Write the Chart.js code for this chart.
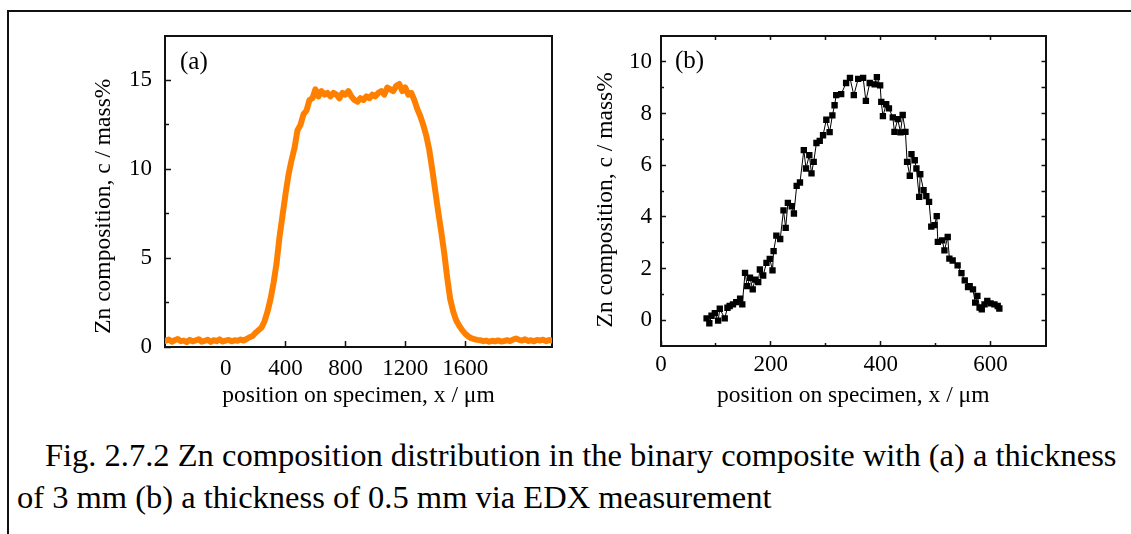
<!DOCTYPE html>
<html>
<head>
<meta charset="utf-8">
<script src="https://cdn.jsdelivr.net/npm/chart.js@4.4.1/dist/chart.umd.min.js"></script>
<style>
  html, body { margin: 0; padding: 0; background: #fff; }
  body { width: 1131px; height: 534px; position: relative; overflow: hidden;
         font-family: "Liberation Serif", "Times New Roman", serif; color: #000; }
  .frame { position: absolute; left: 7px; top: 10px; width: 1200px; height: 600px;
           border-top: 2px solid #111; border-left: 2px solid #111; }
  canvas { position: absolute; }
  #chartA { left: 90px; top: 26px; }
  #chartB { left: 592px; top: 26px; }
  .tag { position: absolute; font-size: 25px; line-height: 25px; }
  .caption { position: absolute; font-size: 32.5px; line-height: 42px; white-space: nowrap; }
</style>
</head>
<body>
<div class="frame"></div>
<canvas id="chartA" width="466" height="384"></canvas>
<canvas id="chartB" width="458" height="384"></canvas>
<div class="tag" style="left:180px; top:48px;">(a)</div>
<div class="tag" style="left:675px; top:47px;">(b)</div>
<div class="caption" style="left:45px; top:434px;">Fig. 2.7.2 Zn composition distribution in the binary composite with (a) a thickness</div>
<div class="caption" style="left:17px; top:476px;">of 3 mm (b) a thickness of 0.5 mm via EDX measurement</div>

<script>
// (a) 3 mm specimen
const xA = [-400,-380,-360,-340,-320,-300,-280,-260,-240,-220,-200,-180,-160,-140,-120,-100,-80,-60,-40,-20,
  0,20,40,60,80,100,120,140,160,180,200,220,240,260,280,300,320,340,360,380,
  400,420,440,460,480,500,520,540,560,580,600,620,640,660,680,700,720,740,760,780,
  800,820,840,860,880,900,920,940,960,980,1000,1020,1040,1060,1080,1100,1120,1140,1160,1180,
  1200,1220,1240,1260,1280,1300,1320,1340,1360,1380,1400,1420,1440,1460,1480,1500,1520,1540,1560,1580,
  1600,1620,1640,1660,1680,1700,1720,1740,1760,1780,1800,1820,1840,1860,1880,1900,1920,1940,1960,1980,
  2000,2020,2040,2060,2080,2100,2120,2140,2160,2180];
const yA = [0.35,0.42,0.30,0.38,0.45,0.33,0.36,0.28,0.40,0.32,0.37,0.44,0.30,0.35,0.41,0.29,0.38,0.33,0.43,0.31,
  0.36,0.40,0.32,0.38,0.35,0.42,0.36,0.45,0.55,0.62,0.80,0.95,1.10,1.45,2.00,2.70,3.60,4.70,6.20,7.40,
  8.60,9.70,10.50,11.20,12.20,12.50,13.10,13.30,13.90,14.00,14.5,14.1,14.4,14.2,14.3,14.1,14.3,14.2,14.0,14.3,
  14.2,14.4,14.1,13.9,13.8,14.0,13.9,14.1,14.0,14.2,14.1,14.3,14.4,14.2,14.6,14.5,14.4,14.7,14.8,14.4,
  14.6,14.2,14.3,13.9,13.4,13.0,12.5,11.9,11.1,10.0,8.8,7.6,6.5,5.3,3.9,2.7,2.0,1.5,1.2,0.95,
  0.75,0.6,0.5,0.45,0.4,0.38,0.33,0.36,0.30,0.35,0.32,0.37,0.31,0.34,0.38,0.33,0.42,0.48,0.40,0.36,
  0.43,0.34,0.38,0.32,0.40,0.36,0.41,0.33,0.39,0.37];

// (b) 0.5 mm specimen
const xB = [83,88,92,98,104,107,116,121,125,131,137,144,148,153,157,162,167,171,177,180,
  186,192,198,203,205,210,217,223,227,231,238,242,247,253,260,264,270,274,278,283,
  289,295,301,307,312,316,319,328,337,344,351,359,368,373,380,389,393,399,401,404,
  410,415,422,425,431,436,440,445,448,453,456,462,465,470,472,478,483,488,492,498,
  502,504,512,516,522,525,531,540,547,553,559,562,568,572,576,580,584,589,594,600,
  607,613,616];
const yB = [0.07,-0.12,0.17,0.27,-0.02,0.44,0.07,0.48,0.55,0.61,0.70,0.83,0.61,1.83,1.32,1.64,1.19,1.57,1.47,1.96,
  1.73,2.22,2.37,1.93,2.67,3.27,3.14,4.25,3.57,4.54,4.41,4.13,5.20,5.33,6.58,5.87,6.39,5.68,6.13,6.86,
  6.94,7.16,7.76,7.28,7.93,8.32,8.71,8.75,9.18,9.38,8.71,9.34,9.38,8.49,9.18,9.13,9.41,9.09,8.45,7.90,
  8.36,8.20,7.85,7.29,7.78,7.27,7.94,7.29,6.13,5.59,6.43,6.19,5.87,4.77,5.65,5.03,4.80,4.58,3.62,3.68,
  4.03,3.03,3.09,2.70,3.22,2.38,2.31,2.12,1.82,1.54,1.28,1.32,1.19,0.68,0.94,0.49,0.42,0.61,0.74,0.65,
  0.61,0.55,0.45];

// tick values
const xTicksA = [0, 400, 800, 1200, 1600];
const yTicksA = [0, 5, 10, 15];
const yMinorA = [2.5, 7.5, 12.5];
const xTicksB = [0, 200, 400, 600];
const xMinorB = [100, 300, 500];
const xTopB = [100, 200, 300, 400, 500, 600];
const yTicksB = [0, 2, 4, 6, 8, 10];
const yMinorB = [1, 3, 5, 7, 9];
const yRightB = [0, 1, 2, 3, 4, 5, 6, 7, 8, 9, 10];

const serif = '"Liberation Serif", "Times New Roman", serif';
const ink = '#111';
const nb = '\u00a0';

// one axis: fixed box size, inward tick marks, optional labels / border / title
function axis(o) {
  const horiz = o.position === 'top' || o.position === 'bottom';
  return {
    type: 'linear',
    axis: horiz ? 'x' : 'y',
    position: o.position,
    min: o.min,
    max: o.max,
    weight: o.weight || 0,
    afterBuildTicks: s => { s.ticks = o.ticks.map(v => ({ value: v })); },
    afterFit: s => {
      if (horiz) s.height = o.size || 0; else s.width = o.size || 0;
      s.paddingLeft = s.paddingRight = s.paddingTop = s.paddingBottom = 0;
    },
    border: { display: !!o.border, color: ink, width: 2 },
    grid: {
      drawOnChartArea: false,
      drawTicks: !!o.len,
      tickLength: o.len || 0,
      tickWidth: 1.5,
      tickColor: o.tickColor || ink,
    },
    ticks: {
      display: !!o.labels,
      padding: o.pad || 0,
      color: '#000',
      font: { family: serif, size: 23 },
      callback: v => String(v),
    },
    title: o.title
      ? { display: true, text: o.title, color: '#000', padding: 0, font: { family: serif, size: 23.5 } }
      : { display: false },
  };
}

const baseOptions = {
  responsive: false,
  animation: false,
  devicePixelRatio: 1,
  events: [],
  plugins: { legend: { display: false }, tooltip: { enabled: false } },
};

new Chart(document.getElementById('chartA'), {
  type: 'line',
  data: {
    datasets: [{
      data: xA.map((x, i) => ({ x, y: yA[i] })),
      borderColor: '#ff8000',
      borderWidth: 6,
      borderJoinStyle: 'round',
      borderCapStyle: 'round',
      pointRadius: 0,
      tension: 0,
    }]
  },
  options: {
    ...baseOptions,
    layout: { padding: { left: 0, right: 4, top: 10, bottom: 0 } },
    scales: {
      x: axis({ position: 'bottom', min: -405, max: 2180, ticks: xTicksA, len: -6, size: 63, labels: true, pad: 14,
                border: true, weight: 1, title: 'position on specimen, x / \u03bcm',
                tickColor: c => (c.tick && c.tick.value === 0 ? 'rgba(0,0,0,0)' : ink) }),
      y: axis({ position: 'left', min: 0, max: 17.5, ticks: yTicksA, len: -6, size: 75, labels: true, pad: 19,
                border: true, weight: 1, title: 'Zn composition, c / mass%' + nb.repeat(5) }),
      ym: axis({ position: 'left', min: 0, max: 17.5, ticks: yMinorA, len: -4 }),
      xt: axis({ position: 'top', min: -405, max: 2180, ticks: [0], border: true }),
      yr: axis({ position: 'right', min: 0, max: 17.5, ticks: [0], border: true }),
    }
  }
});

new Chart(document.getElementById('chartB'), {
  type: 'line',
  data: {
    datasets: [{
      data: xB.map((x, i) => ({ x, y: yB[i] })),
      borderColor: '#000',
      borderWidth: 1,
      pointStyle: 'rect',
      pointRadius: 4.5,
      pointBackgroundColor: '#000',
      pointBorderWidth: 0,
      tension: 0,
    }]
  },
  options: {
    ...baseOptions,
    layout: { padding: { left: 0, right: 4, top: 10, bottom: 0 } },
    scales: {
      x: axis({ position: 'bottom', min: 0, max: 700, ticks: xTicksB, len: -5, size: 64, labels: true, pad: 10,
                border: true, weight: 1, title: 'position on specimen, x / \u03bcm' }),
      xm: axis({ position: 'bottom', min: 0, max: 700, ticks: xMinorB, len: -3 }),
      y: axis({ position: 'left', min: -1, max: 11, ticks: yTicksB, len: -5, size: 69, labels: true, pad: 14,
                border: true, weight: 1, title: 'Zn composition, c / mass%' + nb.repeat(3) }),
      ym: axis({ position: 'left', min: -1, max: 11, ticks: yMinorB, len: -3 }),
      xt: axis({ position: 'top', min: 0, max: 700, ticks: xTopB, len: -4, border: true }),
      yr: axis({ position: 'right', min: -1, max: 11, ticks: yRightB, len: -4, border: true }),
    }
  }
});
</script>
</body>
</html>
